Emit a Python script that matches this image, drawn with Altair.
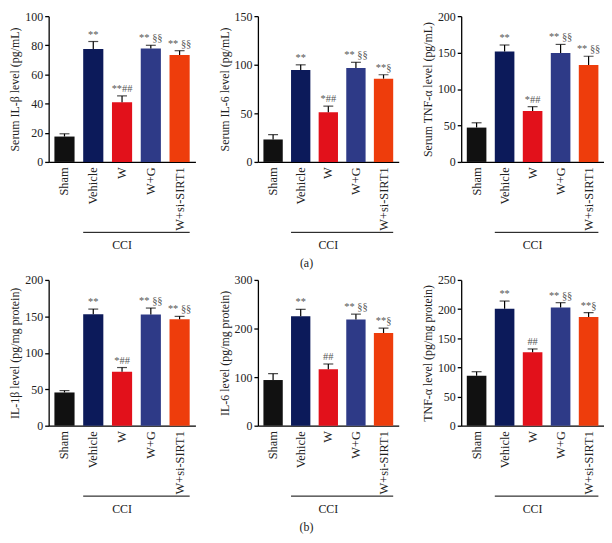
import altair as alt
import pandas as pd

groups = ["Sham", "Vehicle", "W", "W+G", "W+si-SIRT1"]
colors = ["#111111", "#0c1a5a", "#e2111b", "#2e3a87", "#ee3d0c"]

titles = [
    "Serum IL-β level (pg/mL)",
    "Serum IL-6 level (pg/mL)",
    "Serum TNF-α level (pg/mL)",
    "IL-1β level (pg/mg protein)",
    "IL-6 level (pg/mg protein)",
    "TNF-α level (pg/mg protein)",
]
means = [
    [17.4, 77.4, 40.9, 77.8, 73.4],
    [23.1, 94.6, 51.1, 96.6, 85.7],
    [47.1, 151.5, 70.0, 149.3, 133.0],
    [45.6, 153.0, 74.0, 152.6, 146.0],
    [94.0, 225.0, 116.4, 218.4, 190.8],
    [85.5, 200.7, 126.0, 202.9, 186.4],
]
upper = [
    [19.3, 82.6, 45.3, 80.0, 76.3],
    [28.0, 99.9, 57.4, 102.5, 89.7],
    [53.7, 160.4, 75.8, 161.2, 145.0],
    [48.2, 160.0, 79.8, 161.4, 150.0],
    [107.0, 239.5, 127.0, 229.6, 200.7],
    [92.6, 213.8, 131.6, 211.0, 194.0],
]
marks = [
    ["", "**", "**##", "** §§", "** §§"],
    ["", "**", "*##", "** §§", "**§"],
    ["", "**", "*##", "** §§", "** §§"],
    ["", "**", "*##", "** §§", "** §§"],
    ["", "**", "##", "** §§", "**§"],
    ["", "**", "##", "** §§", "**§"],
]
ymax = [100, 150, 200, 200, 300, 250]
ystep = [20, 50, 50, 50, 100, 50]
bracket_label = "CCI"
row_labels = ["(a)", "(b)"]

FONT = "Liberation Serif"
FS = 12
H = 147
WIDTHS = [148, 142, 144]


def xscale():
    return alt.Scale(domain=groups, paddingInner=0.3, paddingOuter=0.2)


def xaxis():
    return alt.Axis(title=None, labelAngle=-90, ticks=False, labelPadding=5, labelFontSize=12.5)


def panel(i, w):
    df = pd.DataFrame({"group": groups, "mean": means[i], "upper": upper[i], "mark": marks[i]})
    yvals = list(range(0, ymax[i] + 1, ystep[i]))

    def yscale():
        return alt.Scale(domain=[0, ymax[i]], nice=False)

    def yaxis():
        return alt.Axis(title=titles[i], values=yvals, titlePadding=3, labelPadding=2)

    def X(f="group:N", **kw):
        return alt.X(f, sort=groups, scale=xscale(), axis=xaxis(), **kw)

    def Y(f):
        return alt.Y(f, scale=yscale(), axis=yaxis())

    base = alt.Chart(df)
    bars = base.mark_bar().encode(
        x=X(),
        y=Y("mean:Q"),
        color=alt.Color("group:N", scale=alt.Scale(domain=groups, range=colors), legend=None),
    )
    err = base.mark_rule(color="black", strokeWidth=1.2).encode(
        x=X(), y=Y("mean:Q"), y2="upper:Q"
    )
    cap = base.mark_tick(color="black", thickness=1.2, size=10, orient="horizontal").encode(
        x=X(), y=Y("upper:Q")
    )
    txt = base.mark_text(baseline="bottom", dy=-2, font=FONT, fontSize=10.5, color="#555555").encode(
        x=X(), y=Y("upper:Q"), text="mark:N"
    )
    bdf = pd.DataFrame({"start": [groups[1]], "end": [groups[-1]], "mid": [groups[2]], "label": [bracket_label]})
    rule = alt.Chart(bdf).mark_rule(color="black", strokeWidth=1).encode(
        x=X("start:N", bandPosition=0),
        x2=alt.X2("end:N", bandPosition=1),
        y=alt.value(H + 71),
    )
    lab = alt.Chart(bdf).mark_text(font=FONT, fontSize=FS, color="#222222").encode(
        x=X("mid:N"),
        y=alt.value(H + 84),
        text="label:N",
    )
    return alt.layer(bars, err, cap, txt, rule, lab).properties(width=w, height=H)


rows = []
for r in range(2):
    row = alt.hconcat(*[panel(r * 3 + c, WIDTHS[c]) for c in range(3)], spacing=22).properties(
        title=alt.TitleParams(
            row_labels[r], orient="bottom", anchor="middle", font=FONT, fontSize=FS,
            fontWeight="normal", offset=7, color="#222222",
        )
    )
    rows.append(row)

chart = (
    alt.vconcat(*rows, spacing=5)
    .properties(padding=0)
    .configure_view(stroke=None)
    .configure_axis(
        labelFont=FONT,
        labelFontSize=FS,
        labelColor="#222222",
        titleFont=FONT,
        titleFontSize=FS,
        titleFontWeight="normal",
        titleColor="#222222",
        domainColor="black",
        domainWidth=1.3,
        tickColor="black",
        tickWidth=1.3,
        tickSize=4,
        grid=False,
    )
)

chart.save("out.html", embed_options={"renderer": "svg", "actions": False})
